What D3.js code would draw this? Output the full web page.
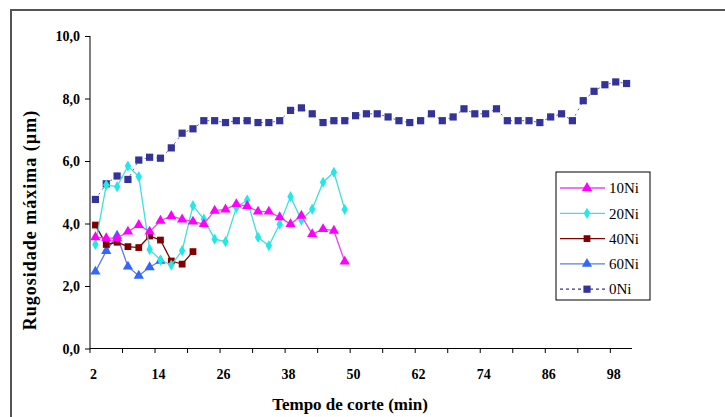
<!DOCTYPE html>
<html>
<head>
<meta charset="utf-8">
<script src="https://cdn.jsdelivr.net/npm/d3@7"></script>
<style>
  body { margin: 0; background: #fff; }
  svg { display: block; }
</style>
</head>
<body>
<svg id="chart" width="725" height="417"></svg>
<script>
// tempo de corte (min), one category every 2 min
var tempos = d3.range(2, 101, 2);

var ni10 = [3.56, 3.53, 3.53, 3.74, 3.95, 3.74, 4.09, 4.24, 4.13, 4.06, 3.98, 4.41,
            4.45, 4.62, 4.56, 4.38, 4.38, 4.20, 3.98, 4.25, 3.66, 3.82, 3.77, 2.78];
var ni20 = [3.33, 5.23, 5.18, 5.84, 5.50, 3.17, 2.83, 2.67, 3.13, 4.57, 4.14, 3.50,
            3.42, 4.51, 4.75, 3.56, 3.29, 3.98, 4.86, 4.11, 4.46, 5.32, 5.64, 4.45];
var ni40 = [3.95, 3.33, 3.40, 3.26, 3.23, 3.60, 3.47, 2.80, 2.70, 3.10];
var ni60 = [2.46, 3.12, 3.61, 2.62, 2.33, 2.60, 2.81];
var ni0 = [4.77, 5.27, 5.52, 5.41, 6.03, 6.12, 6.09, 6.42, 6.89, 7.03, 7.29, 7.29,
           7.23, 7.29, 7.29, 7.23, 7.23, 7.29, 7.62, 7.70, 7.51, 7.23, 7.29, 7.29,
           7.45, 7.51, 7.51, 7.41, 7.29, 7.23, 7.29, 7.51, 7.29, 7.41, 7.67, 7.51,
           7.51, 7.67, 7.29, 7.29, 7.29, 7.23, 7.41, 7.51, 7.29, 7.93, 8.23, 8.44,
           8.53, 8.48];

var yTicks = [0, 2, 4, 6, 8, 10];

var series = [
  {name: "10Ni", values: ni10, color: "#ff00ff", line: "#ee44ee", symbol: d3.symbolTriangle, size: 46},
  {name: "20Ni", values: ni20, color: "#22e8e8", line: "#44dddd", symbol: d3.symbolDiamond, size: 36},
  {name: "40Ni", values: ni40, color: "#800000", line: "#800000", symbol: d3.symbolSquare, size: 46},
  {name: "60Ni", values: ni60, color: "#3366ff", line: "#5b7fe0", symbol: d3.symbolTriangle, size: 46},
  {name: "0Ni", values: ni0, color: "#333399", line: "#333399", symbol: d3.symbolSquare, size: 52, dash: "2,4", width: 0.8}
];

var svg = d3.select("svg#chart");
var serif = "'Liberation Serif', 'Times New Roman', serif";

// outer frame (cut off at right and bottom)
svg.append("rect")
  .attr("x", 11).attr("y", 10)
  .attr("width", 800).attr("height", 500)
  .attr("fill", "none")
  .attr("stroke", "#555")
  .attr("stroke-width", 2);

var plotLeft = 90, plotRight = 632, plotTop = 36, plotBottom = 348.5;

var x = d3.scaleBand().domain(tempos).range([plotLeft, plotRight]);
var y = d3.scaleLinear().domain([0, 10]).range([plotBottom, plotTop]);

// y axis
var yAxis = svg.append("g")
  .attr("transform", "translate(" + plotLeft + ",0)")
  .call(d3.axisLeft(y).tickValues(yTicks).tickSize(5).tickPadding(5)
    .tickFormat(function(d) { return d3.format(".1f")(d).replace(".", ","); }));
yAxis.select(".domain").attr("d", "M0," + plotTop + "V" + plotBottom);

// x axis: ticks on category boundaries every 3, labels every 6
var xg = svg.append("g").attr("class", "xaxis");
xg.append("line")
  .attr("x1", plotLeft).attr("x2", plotRight)
  .attr("y1", plotBottom).attr("y2", plotBottom)
  .attr("stroke", "#000");
xg.selectAll(".tk")
  .data(tempos.filter(function(d, i) { return i % 3 === 0; }))
  .enter().append("line")
  .attr("x1", function(d) { return x(d); })
  .attr("x2", function(d) { return x(d); })
  .attr("y1", plotBottom).attr("y2", plotBottom + 4.5)
  .attr("stroke", "#000");
xg.selectAll(".lb")
  .data(tempos.filter(function(d, i) { return i % 6 === 0; }))
  .enter().append("text")
  .attr("x", function(d) { return x(d) + x.bandwidth() / 2 - 2; })
  .attr("y", 379)
  .attr("text-anchor", "middle")
  .text(function(d) { return d; });

svg.selectAll(".tick text, .xaxis text")
  .style("font-family", serif)
  .style("font-weight", "bold")
  .style("font-size", "14px")
  .attr("fill", "#000");
yAxis.selectAll(".tick text").attr("dy", "0.35em");

// axis titles
svg.append("text")
  .attr("x", 350).attr("y", 410)
  .attr("text-anchor", "middle")
  .style("font-family", serif).style("font-weight", "bold").style("font-size", "17px")
  .text("Tempo de corte (min)");

svg.append("text")
  .attr("transform", "translate(36,220) rotate(-90)")
  .attr("text-anchor", "middle")
  .style("font-family", serif).style("font-weight", "bold").style("font-size", "18px")
  .style("letter-spacing", "1px")
  .text("Rugosidade máxima (µm)");

var line = d3.line()
  .x(function(d, i) { return x(tempos[i]) + x.bandwidth() / 2; })
  .y(function(d) { return y(d); });

// draw 0Ni first so the others sit above it
var order = [4, 3, 2, 1, 0];
order.forEach(function(k) {
  var s = series[k];
  var g = svg.append("g").attr("class", "serie");
  g.append("path")
    .attr("d", line(s.values))
    .attr("fill", "none")
    .attr("stroke", s.line)
    .attr("stroke-width", s.width || 1.3)
    .attr("stroke-dasharray", s.dash || null);
  g.selectAll("path.pt")
    .data(s.values)
    .enter().append("path")
    .attr("class", "pt")
    .attr("transform", function(d, i) {
      return "translate(" + (x(tempos[i]) + x.bandwidth() / 2) + "," + y(d) + ")";
    })
    .attr("d", d3.symbol().type(s.symbol).size(s.size))
    .attr("fill", s.color);
});

// legend
var lg = svg.append("g").attr("transform", "translate(556,172)");
lg.append("rect")
  .attr("width", 94).attr("height", 128)
  .attr("fill", "#fff")
  .attr("stroke", "#000").attr("stroke-width", 1);
var item = lg.selectAll(".item")
  .data(series)
  .enter().append("g")
  .attr("transform", function(d, i) { return "translate(0," + (16 + i * 25.3) + ")"; });
item.append("line")
  .attr("x1", 4).attr("x2", 49)
  .attr("stroke", function(d) { return d.line; })
  .attr("stroke-width", 1.3)
  .attr("stroke-dasharray", function(d) { return d.dash ? "3,3" : null; });
item.append("path")
  .attr("transform", "translate(31,0)")
  .attr("d", function(d) { return d3.symbol().type(d.symbol).size(d.size)(); })
  .attr("fill", function(d) { return d.color; });
item.append("text")
  .attr("x", 53).attr("dy", "0.35em")
  .style("font-family", serif).style("font-size", "15px")
  .text(function(d) { return d.name; });
</script>
</body>
</html>
